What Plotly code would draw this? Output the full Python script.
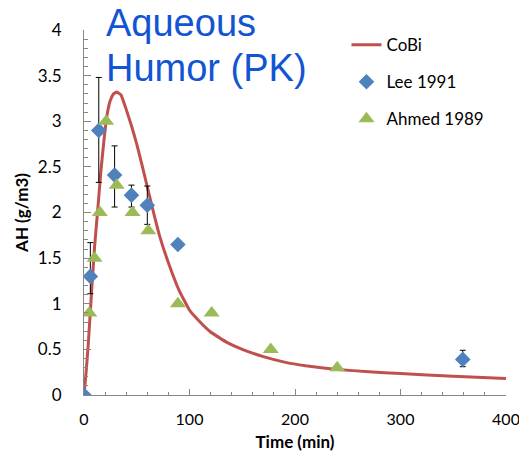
import plotly.graph_objects as go

# CoBi model curve
cobi_t = [0, 2, 4, 7, 10, 13, 16, 19, 22, 25, 28, 31, 35, 40, 45, 50, 55, 60, 67, 72,
          80, 90, 100, 110, 120, 135, 150, 170, 190, 210, 240, 270, 300, 350, 400]
cobi_c = [0, 0.25, 0.55, 1.1, 1.62, 2.03, 2.45, 2.8, 3.08, 3.23, 3.3, 3.32, 3.29, 3.13, 2.95,
          2.75, 2.52, 2.28, 1.95, 1.73, 1.45, 1.15, 0.93, 0.8, 0.69, 0.58, 0.5, 0.42, 0.36,
          0.32, 0.28, 0.255, 0.235, 0.205, 0.18]

# Lee 1991
lee_t = [0, 6, 14, 29, 45, 60, 89, 359]
lee_c = [0, 1.30, 2.90, 2.41, 2.19, 2.08, 1.65, 0.39]
lee_err_plus = [0, 0.37, 0.58, 0.32, 0.11, 0.21, 0, 0.10]
lee_err_minus = [0, 0.19, 0.57, 0.35, 0.13, 0.21, 0, 0.08]

# Ahmed 1989
ahm_t = [5, 10, 15, 21, 31, 46, 61, 89, 121, 177, 240]
ahm_c = [0.9, 1.5, 2.0, 3.0, 2.3, 2.0, 1.8, 1.0, 0.9, 0.5, 0.3]

x_ticks = [0, 100, 200, 300, 400]
y_ticks = [0, 0.5, 1, 1.5, 2, 2.5, 3, 3.5, 4]

FONT = "Lato"

fig = go.Figure()
fig.add_trace(go.Scatter(
    x=cobi_t, y=cobi_c, mode="lines", name="CoBi", legendgroup="a",
    line=dict(color="#C0504D", width=3, shape="spline", smoothing=0.3),
))
fig.add_trace(go.Scatter(
    x=lee_t, y=lee_c, mode="markers", name="Lee 1991", legendgroup="b",
    marker=dict(symbol="diamond", size=12, color="#4F81BD"),
    error_y=dict(type="data", symmetric=False, array=lee_err_plus,
                 arrayminus=lee_err_minus, color="black", thickness=1, width=3),
))
fig.add_trace(go.Scatter(
    x=ahm_t, y=ahm_c, mode="markers", name="Ahmed 1989", legendgroup="c",
    marker=dict(symbol="triangle-up", size=14, color="#9BBB59"),
))

axis_common = dict(
    showgrid=False, zeroline=False, showline=True, linecolor="#868686", linewidth=1,
    ticks="inside", tickcolor="#868686",
    automargin=False, ticklabeloverflow="allow",
)

fig.update_xaxes(
    range=[0, 400], tickvals=x_ticks, ticklen=6,
    tickfont=dict(family=FONT, size=16, color="black"),
    minor=dict(dtick=20, ticks="inside", ticklen=3, tickcolor="#868686"),
    ticklabelstandoff=10,
    title=dict(text="<b>Time (min)</b>", font=dict(family=FONT, size=17, color="black"), standoff=8),
    **axis_common,
)
fig.update_yaxes(
    range=[0, 4], tickvals=y_ticks, ticktext=[("%g" % v) for v in y_ticks], ticklen=7,
    tickfont=dict(family=FONT, size=17, color="black"),
    minor=dict(dtick=0.1, ticks="inside", ticklen=4, tickcolor="#868686"),
    ticklabelstandoff=18,
    title=dict(text="<b>AH (g/m3)</b>", font=dict(family=FONT, size=17, color="black"), standoff=4),
    **axis_common,
)

fig.add_annotation(text="Aqueous", xref="paper", yref="paper", x=0.048, y=1.082,
                   xanchor="left", yanchor="top", showarrow=False,
                   font=dict(family="Liberation Sans", size=38, color="#1155D4"))
fig.add_annotation(text="Humor (PK)", xref="paper", yref="paper", x=0.048, y=0.959,
                   xanchor="left", yanchor="top", showarrow=False,
                   font=dict(family="Liberation Sans", size=38, color="#1155D4"))

fig.update_layout(
    width=519, height=460,
    margin=dict(l=84, r=13, t=30, b=65, autoexpand=False),
    paper_bgcolor="white", plot_bgcolor="white",
    showlegend=True,
    legend=dict(x=0.622, y=1.008, xanchor="left", yanchor="top",
                font=dict(family=FONT, size=17, color="black"),
                bgcolor="rgba(0,0,0,0)", tracegroupgap=12, traceorder="grouped",
                itemwidth=30),
)

fig.write_html(
    "out.html",
    config={"displayModeBar": False},
    post_script="document.body.style.margin='0';document.body.style.overflow='hidden';",
)
